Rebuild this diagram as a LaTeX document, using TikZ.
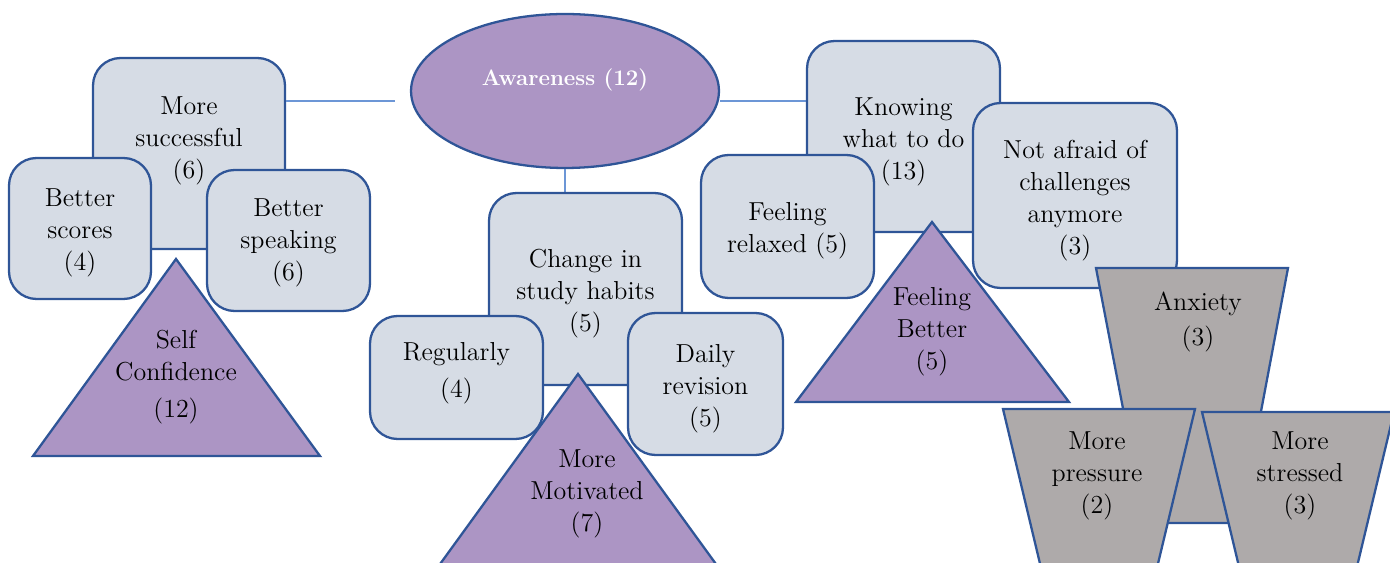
\documentclass[tikz,border=0pt]{standalone}
\usepackage{tikz}
\usetikzlibrary{shapes.geometric, positioning, calc}
\definecolor{borderblue}{HTML}{2F5597}
\definecolor{paleslate}{HTML}{D6DCE5}
\definecolor{lavender}{HTML}{AC95C4}
\definecolor{stonegray}{HTML}{AEAAAA}
\definecolor{linkblue}{HTML}{6C96D6}
\tikzset{
  link/.style={line width=0.8pt, linkblue},
  hub/.style={ellipse, draw=borderblue, fill=lavender, line width=1.3pt},
  hubtext/.style={text=white, font=\fontsize{12.7}{15}\selectfont\bfseries},
  themebox/.style={rectangle, rounded corners=0.55cm, draw=borderblue, fill=paleslate, line width=1.3pt, inner sep=0pt},
  theme/.style={draw=borderblue, fill=lavender, line width=1.3pt},
  worry/.style={draw=borderblue, fill=stonegray, line width=1.3pt},
  tag/.style={align=center, inner sep=0pt},
}

\begin{document}
\begin{tikzpicture}[x=0.02cm, y=-0.02cm, font=\fontsize{14.8}{18.2}\selectfont]
  \useasboundingbox (0,0) rectangle (1390,563);
  \clip (0,0) rectangle (1390,563);

  % Hub
  \node[hub, minimum width=6.16cm, minimum height=3.08cm, label={[hubtext, yshift=0.22cm]center:Awareness (12)}] (aware) at (565,91) {};

  % Left group
  \node[themebox, minimum width=3.84cm, minimum height=3.82cm, label={[tag, yshift=0.25cm]center:More\\successful\\(6)}] (succ) at (189,153.5) {};
  \draw[link, shorten >=0.3cm] (succ.east |- 0,101) -- (aware.west |- 0,101);
  \draw[link] (aware.east |- 0,101) -- (807,101) coordinate (knowhook);
  \draw[link] (aware.south) -- (aware.south |- 0,198) coordinate (habitshook);
  \node[themebox, minimum width=2.84cm, minimum height=2.82cm, label={[tag, yshift=-0.08cm]center:Better\\scores\\(4)}] (scores) at (80,228.5) {};
  \node[themebox, minimum width=3.26cm, minimum height=2.82cm, label={[tag, yshift=-0.04cm]center:Better\\speaking\\(6)}] (speak) at (288.5,240.5) {};
  \draw[theme] (176,259) -- (320,456) -- (33,456) -- cycle;
  \node[tag] (selfconf) at (176,377) {Self\\Confidence\\[3pt](12)};

  % Middle group
  \node[themebox, minimum width=3.86cm, minimum height=3.84cm, label={[tag, yshift=-0.1cm]center:Change in\\study habits\\(5)}] (habits) at (585.5,289) {};
  \node[themebox, minimum width=3.46cm, minimum height=2.46cm, label={[tag, yshift=0.09cm]center:Regularly\\[3pt](4)}] (regul) at (456.5,377.5) {};
  \node[themebox, minimum width=3.10cm, minimum height=2.84cm, label={[tag, yshift=-0.1cm]center:Daily\\revision\\(5)}] (daily) at (705.5,384) {};
  \draw[theme] (578,374) -- (721,571) -- (435,571) -- cycle;
  \node[tag] (motiv) at (587,494) {More\\Motivated\\(7)};

  % Right group
  \node[themebox, minimum width=3.86cm, minimum height=3.82cm, label={[tag, yshift=-0.1cm]center:Knowing\\what to do\\(13)}] (know) at (903.5,136.5) {};
  \node[themebox, minimum width=3.46cm, minimum height=2.86cm, label={[tag, yshift=-0.08cm]center:Feeling\\relaxed (5)}] (relax) at (787.5,226.5) {};
  \node[themebox, minimum width=4.08cm, minimum height=3.70cm, label={[tag, yshift=-0.1cm]center:Not afraid of\\challenges\\anymore\\(3)}] (brave) at (1075,195.5) {};
  \draw[theme] (932,222) -- (1069,402) -- (796,402) -- cycle;
  \node[tag] (better) at (932,332) {Feeling\\Better\\(5)};

  % Worries
  \draw[worry] (1096,268) -- (1288,268) -- (1240,523) -- (1145,523) -- cycle;
  \node[tag] (anxiety) at (1198,322) {Anxiety\\[2pt](3)};
  \draw[worry] (1003,409) -- (1195,409) -- (1134,664) -- (1064,664) -- cycle;
  \node[tag] (pressure) at (1097,476) {More\\pressure\\(2)};
  \draw[worry] (1202,412) -- (1394,412) -- (1333,667) -- (1263,667) -- cycle;
  \node[tag] (stressed) at (1300,476) {More\\stressed\\(3)};
\end{tikzpicture}
\end{document}
